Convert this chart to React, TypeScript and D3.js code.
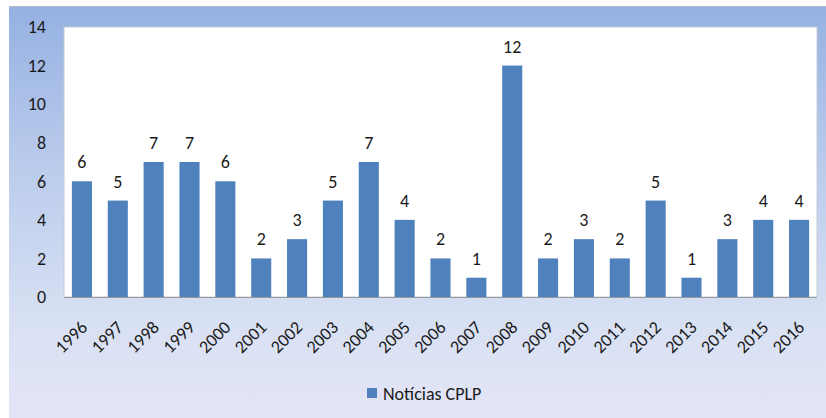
import * as d3 from 'd3';
import React, { useEffect, useRef } from 'react';

const years = ['1996', '1997', '1998', '1999', '2000', '2001', '2002', '2003', '2004', '2005', '2006',
  '2007', '2008', '2009', '2010', '2011', '2012', '2013', '2014', '2015', '2016'];
const noticias = [6, 5, 7, 7, 6, 2, 3, 5, 7, 4, 2, 1, 12, 2, 3, 2, 5, 1, 3, 4, 4];
const yTicks = [0, 2, 4, 6, 8, 10, 12, 14];
const seriesName = 'Notícias CPLP';

const W = 826;
const H = 418;
const font = 'Carlito, Lato, "Open Sans", sans-serif';
const fs = 18;

const App = () => {
  const ref = useRef<SVGSVGElement>(null);

  useEffect(() => {
    const svg = d3.select(ref.current);
    svg.selectAll('*').remove();

    const plot = { left: 64, right: 817, top: 27, bottom: 297 };

    const defs = svg.append('defs');
    const grad = defs.append('linearGradient')
      .attr('id', 'bg')
      .attr('x1', 0).attr('y1', 0).attr('x2', 0).attr('y2', 1);
    grad.append('stop').attr('offset', '0%').attr('stop-color', '#95b1e2');
    grad.append('stop').attr('offset', '35%').attr('stop-color', '#b7c9eb');
    grad.append('stop').attr('offset', '75%').attr('stop-color', '#d7e0f3');
    grad.append('stop').attr('offset', '100%').attr('stop-color', '#e3e5f6');

    // chart frame
    svg.append('rect')
      .attr('x', 9).attr('y', 7)
      .attr('width', W - 9).attr('height', H - 7)
      .attr('fill', 'url(#bg)');
    svg.append('line')
      .attr('x1', 9).attr('x2', W).attr('y1', 6.5).attr('y2', 6.5)
      .attr('stroke', '#b0b8c8').attr('stroke-width', 1);

    // plot area
    svg.append('rect')
      .attr('x', plot.left).attr('y', plot.top)
      .attr('width', plot.right - plot.left).attr('height', plot.bottom - plot.top)
      .attr('fill', '#ffffff')
      .attr('stroke', '#c4cad6').attr('stroke-width', 1);

    const x = d3.scaleBand<string>()
      .domain(years)
      .range([plot.left, plot.right])
      .paddingInner(0.44)
      .paddingOuter(0.22);
    const y = d3.scaleLinear().domain([0, 14]).range([plot.bottom, plot.top]);

    const g = svg.append('g');
    g.selectAll('rect.bar')
      .data(noticias)
      .join('rect')
      .attr('class', 'bar')
      .attr('x', (_, i) => x(years[i]) ?? 0)
      .attr('y', d => y(d))
      .attr('width', x.bandwidth())
      .attr('height', d => y(0) - y(d))
      .attr('fill', '#4f81bd');

    g.selectAll('text.val')
      .data(noticias)
      .join('text')
      .attr('class', 'val')
      .attr('x', (_, i) => (x(years[i]) ?? 0) + x.bandwidth() / 2)
      .attr('y', d => y(d) - 13)
      .attr('text-anchor', 'middle')
      .attr('font-family', font)
      .attr('font-size', fs)
      .attr('fill', '#1a1a1a')
      .text(d => d);

    // axis line
    svg.append('line')
      .attr('x1', plot.left).attr('x2', plot.right)
      .attr('y1', plot.bottom + 0.5).attr('y2', plot.bottom + 0.5)
      .attr('stroke', '#9a9a9a');

    // y labels
    svg.selectAll('text.ytick')
      .data(yTicks)
      .join('text')
      .attr('class', 'ytick')
      .attr('x', 46)
      .attr('y', d => y(d))
      .attr('dy', '0.35em')
      .attr('text-anchor', 'end')
      .attr('font-family', font)
      .attr('font-size', fs)
      .attr('fill', '#1a1a1a')
      .text(d => d);

    // x labels
    svg.selectAll('text.xtick')
      .data(years)
      .join('text')
      .attr('class', 'xtick')
      .attr('transform', d => `translate(${(x(d) ?? 0) + x.bandwidth() / 2 + 2},${plot.bottom + 27}) rotate(-45)`)
      .attr('text-anchor', 'end')
      .attr('dy', '0.35em')
      .attr('font-family', font)
      .attr('font-size', fs)
      .attr('fill', '#1a1a1a')
      .text(d => d);

    // legend
    svg.append('rect')
      .attr('x', 367).attr('y', 388).attr('width', 10).attr('height', 10)
      .attr('fill', '#4f81bd');
    svg.append('text')
      .attr('x', 383).attr('y', 400)
      .attr('font-family', font)
      .attr('font-size', fs)
      .attr('fill', '#1a1a1a')
      .text(seriesName);
  }, []);

  return (
    <svg
      ref={ref}
      width={W}
      height={H}
      style={{ position: 'absolute', left: 0, top: 0, background: '#ffffff' }}
    />
  );
};

export default App;
